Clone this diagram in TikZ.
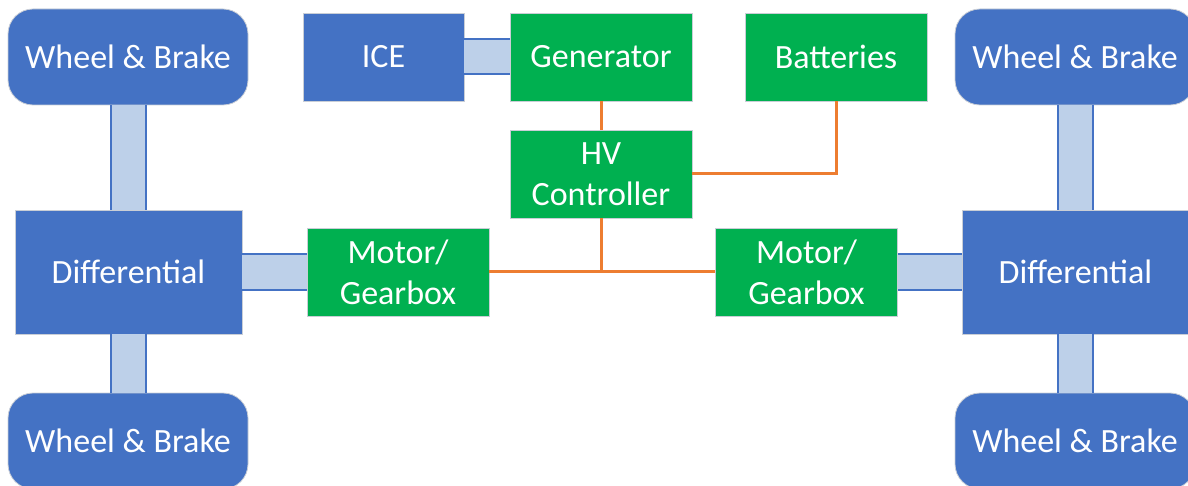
\documentclass[tikz,border=0pt]{standalone}
\usepackage{fontspec}
\setmainfont{Carlito}
\usepackage{tikz}
\definecolor{axle}{HTML}{4472C4}
\definecolor{axlelt}{HTML}{BDD0E9}
\definecolor{elec}{HTML}{00B050}
\definecolor{wireor}{HTML}{ED7D31}
\definecolor{rim}{HTML}{C9CED6}
\tikzset{
  blk/.style={draw=rim,line width=0.8pt,text=white,align=center,inner sep=0pt,
    font=\fontsize{34}{41}\selectfont},
  mech/.style={blk,fill=axle},
  elecbox/.style={blk,fill=elec,minimum width=182,minimum height=88},
  wheel/.style={mech,rounded corners=25,minimum width=240,minimum height=96},
  diff/.style={mech,minimum width=227,minimum height=124},
  shaft/.style={draw=axle,line width=2,double=axlelt,double distance=33},
  cable/.style={wireor,line width=3}
}

\begin{document}
\begin{tikzpicture}[x=1pt,y=-1pt]
  \useasboundingbox (0,0) rectangle (1188,486);
  % mechanical side
  \node[wheel] (wtl) at (128,57) {Wheel \& Brake};
  \node[wheel] (wbl) at (128,441) {Wheel \& Brake};
  \node[diff] (dl) at (128.5,272) {Differential};
  \node[wheel] (wtr) at (1075,57) {Wheel \& Brake};
  \node[wheel] (wbr) at (1075,441) {Wheel \& Brake};
  \node[diff] (dr) at (1075.5,272) {Differential};
  \node[mech,minimum width=161,minimum height=88] (ice) at (383.5,57) {ICE};
  % electrical side
  \node[elecbox] (gen) at (601,57) {Generator};
  \node[elecbox] (hv) at (601,174) {HV\\Controller};
  \node[elecbox] (bat) at (836,57) {Batteries};
  \node[elecbox] (ml) at (398,272) {Motor/\\Gearbox};
  \node[elecbox] (mr) at (806.5,272) {Motor/\\Gearbox};
  % shafts
  \draw[shaft] (wtl.south) -- (wtl.south |- dl.north);
  \draw[shaft] (dl.south) -- (dl.south |- wbl.north);
  \draw[shaft] (wtr.south) -- (wtr.south |- dr.north);
  \draw[shaft] (dr.south) -- (dr.south |- wbr.north);
  \draw[shaft] (dl.east) -- (ml.west);
  \draw[shaft] (mr.east) -- (dr.west);
  \draw[shaft] (ice.east) -- (gen.west);
  % cables
  \draw[cable] (gen.south) -- (hv.north);
  \draw[cable] (bat.south) |- (hv.east);
  \draw[cable] (hv.south) |- (ml.east);
  \draw[cable] (hv.south) |- (mr.west);
\end{tikzpicture}
\end{document}
